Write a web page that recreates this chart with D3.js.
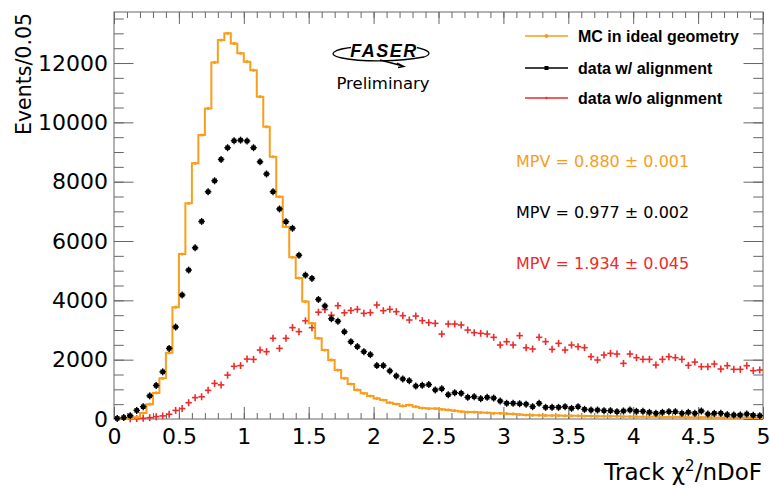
<!DOCTYPE html>
<html>
<head>
<meta charset="utf-8">
<script src="https://cdn.jsdelivr.net/npm/d3@7"></script>
<style>
  body { margin: 0; background: #fff; }
  svg { display: block; }
</style>
</head>
<body>
<svg id="chart"></svg>
<script>
// bin contents, 100 bins of width 0.05 from 0 to 5
const binWidth = 0.05;
const mcIdeal = [
  0, 0, 20, 60, 200, 500, 880, 1370, 2230, 3770,
  5560, 7270, 8620, 9570, 10470, 12020, 12775, 13000, 12660, 12330,
  12045, 11760, 10865, 9850, 8840, 7490, 6480, 5450, 4750, 3960,
  3225, 2720, 2325, 1990, 1650, 1370, 1180, 980, 865, 775,
  695, 640, 550, 505, 440, 470, 415, 370, 350, 350,
  325, 305, 280, 250, 235, 235, 215, 210, 190, 190,
  180, 170, 150, 135, 130, 128, 120, 118, 116, 110,
  108, 106, 100, 98, 96, 92, 90, 89, 85, 82,
  80, 79, 75, 72, 71, 68, 66, 65, 62, 60,
  59, 56, 54, 53, 51, 50, 48, 47, 45, 44
];
const dataAligned = [
  20, 50, 110, 290, 415, 780, 1130, 1590, 2380, 3100,
  4180, 5020, 5770, 6660, 7660, 8030, 8750, 9145, 9380, 9400,
  9370, 9145, 8670, 8260, 7660, 7080, 6650, 6430, 5520, 4850,
  4740, 4030, 3810, 3380, 3295, 2940, 2606, 2440, 2270, 2170,
  1800, 1800, 1620, 1450, 1350, 1290, 1110, 1135, 1160, 980,
  1020, 820, 885, 865, 730, 750, 685, 730, 705, 605,
  530, 530, 515, 500, 416, 528, 393, 393, 393, 416,
  360, 416, 326, 303, 303, 281, 281, 247, 270, 303,
  258, 258, 225, 191, 225, 247, 247, 191, 225, 191,
  270, 168, 191, 191, 146, 135, 135, 168, 123, 112
];
const dataNoAlign = [
  0, 0, 5, 15, 25, 45, 80, 105, 160, 290,
  350, 550, 720, 750, 965, 1200, 1150, 1480, 1775, 1800,
  2020, 2010, 2325, 2270, 2720, 2380, 2720, 3080, 2945, 3310,
  3080, 3600, 3690, 3500, 3820, 3580, 3660, 3697, 3562, 3584,
  3842, 3652, 3697, 3618, 3483, 3337, 3472, 3315, 3247, 3225,
  2865, 3202, 3202, 3168, 3000, 2910, 2888, 2865, 2753, 2494,
  2606, 2494, 2810, 2400, 2360, 2753, 2607, 2348, 2550, 2326,
  2494, 2438, 2405, 2101, 1989, 2157, 2213, 2191, 1876, 2191,
  2067, 2011, 2011, 1820, 2011, 2101, 2067, 2011, 1809, 1920,
  1764, 1764, 1854, 1685, 1797, 1674, 1674, 1797, 1629, 1652
];

const xTicks = [0, 0.5, 1, 1.5, 2, 2.5, 3, 3.5, 4, 4.5, 5];
const xTickLabels = ["0", "0.5", "1", "1.5", "2", "2.5", "3", "3.5", "4", "4.5", "5"];
const yTicks = [0, 2000, 4000, 6000, 8000, 10000, 12000];
const yTickLabels = ["0", "2000", "4000", "6000", "8000", "10000", "12000"];

const seriesNames = ["MC in ideal geometry", "data w/ alignment", "data w/o alignment"];
const mpvTexts = ["MPV = 0.880 \u00b1 0.001", "MPV = 0.977 \u00b1 0.002", "MPV = 1.934 \u00b1 0.045"];

const orange = "#f99d1c";
const red = "#ee2a2a";
const black = "#000";

const width = 770, height = 488;
const margin = {left: 114, right: 7, top: 12, bottom: 69};

const svg = d3.select("#chart").attr("width", width).attr("height", height);

const x = d3.scaleLinear().domain([0, 5]).range([margin.left, width - margin.right]);
const y = d3.scaleLinear().domain([0, 13720]).range([height - margin.bottom, margin.top]);

const plotW = width - margin.left - margin.right;
const plotH = height - margin.top - margin.bottom;
const xTickLen = 12, yTickLen = 19.5;

const minorX = d3.range(0, 51).map(d => d / 10);
const minorY = d3.range(0, 28).map(d => d * 500);

// frame
svg.append("rect")
  .attr("x", margin.left).attr("y", margin.top)
  .attr("width", plotW).attr("height", plotH)
  .attr("fill", "none").attr("stroke", "#666").attr("stroke-width", 1);

function styleAxis(g) {
  g.select(".domain").remove();
  g.selectAll("line").attr("stroke", "#666");
}

// ticks on all four sides
svg.append("g").attr("transform", `translate(0,${height - margin.bottom})`)
  .call(d3.axisBottom(x).tickValues(minorX).tickSize(-xTickLen / 2).tickFormat("")).call(styleAxis);
svg.append("g").attr("transform", `translate(0,${margin.top})`)
  .call(d3.axisTop(x).tickValues(minorX).tickSize(-xTickLen / 2).tickFormat("")).call(styleAxis);
svg.append("g").attr("transform", `translate(0,${margin.top})`)
  .call(d3.axisTop(x).tickValues(xTicks).tickSize(-xTickLen).tickFormat("")).call(styleAxis);
svg.append("g").attr("transform", `translate(${margin.left},0)`)
  .call(d3.axisLeft(y).tickValues(minorY).tickSize(-yTickLen / 2).tickFormat("")).call(styleAxis);
svg.append("g").attr("transform", `translate(${width - margin.right},0)`)
  .call(d3.axisRight(y).tickValues(minorY).tickSize(-yTickLen / 2).tickFormat("")).call(styleAxis);
svg.append("g").attr("transform", `translate(${width - margin.right},0)`)
  .call(d3.axisRight(y).tickValues(yTicks).tickSize(-yTickLen).tickFormat("")).call(styleAxis);

const xAxis = svg.append("g").attr("transform", `translate(0,${height - margin.bottom})`)
  .call(d3.axisBottom(x).tickValues(xTicks).tickSize(-xTickLen).tickPadding(9)
    .tickFormat((d, i) => xTickLabels[i]))
  .call(styleAxis);
const yAxis = svg.append("g").attr("transform", `translate(${margin.left},0)`)
  .call(d3.axisLeft(y).tickValues(yTicks).tickSize(-yTickLen).tickPadding(6)
    .tickFormat((d, i) => yTickLabels[i]))
  .call(styleAxis);
[xAxis, yAxis].forEach(g => g.selectAll("text")
  .attr("font-family", "DejaVu Sans").attr("font-size", 22).attr("fill", "#000"));

// axis titles
const xTitle = svg.append("text")
  .attr("x", width - 8).attr("y", 480)
  .attr("text-anchor", "end")
  .attr("font-family", "DejaVu Sans").attr("font-size", 23);
xTitle.append("tspan").text("Track \u03c7");
xTitle.append("tspan").attr("font-size", 15).attr("dy", -9).text("2");
xTitle.append("tspan").attr("dy", 9).text("/nDoF");

svg.append("text")
  .attr("transform", `translate(31,${margin.top + 1}) rotate(-90)`)
  .attr("text-anchor", "end")
  .attr("font-family", "DejaVu Sans").attr("font-size", 20.5)
  .text("Events/0.05");

// MC histogram as steps
const edges = d3.range(0, mcIdeal.length + 1).map(i => i * binWidth);
const stepData = edges.map((e, i) => [e, mcIdeal[Math.min(i, mcIdeal.length - 1)]]);
const step = d3.line().x(d => x(d[0])).y(d => y(d[1])).curve(d3.curveStepAfter);

const plot = svg.append("g");

// data w/o alignment, red crosses
const redG = plot.append("g").attr("stroke", red).attr("stroke-width", 1.6);
dataNoAlign.forEach((v, i) => {
  if (v <= 0) return;
  const cx = x((i + 0.5) * binWidth), cy = y(v);
  redG.append("line").attr("x1", x(i * binWidth)).attr("x2", x((i + 1) * binWidth))
    .attr("y1", cy).attr("y2", cy);
  redG.append("line").attr("x1", cx).attr("x2", cx).attr("y1", cy - 3.5).attr("y2", cy + 3.5);
});

plot.append("path")
  .attr("d", step(stepData))
  .attr("fill", "none").attr("stroke", orange).attr("stroke-width", 2);
plot.selectAll(".mc-dot").data(mcIdeal).enter().append("circle")
  .attr("class", "mc-dot")
  .attr("cx", (d, i) => x((i + 0.5) * binWidth))
  .attr("cy", d => y(d))
  .attr("r", 1.6).attr("fill", orange);

// data w/ alignment, black squares with bars
const blackG = plot.append("g").attr("stroke", black).attr("stroke-width", 1.4);
dataAligned.forEach((v, i) => {
  const cx = x((i + 0.5) * binWidth), cy = y(v);
  blackG.append("line").attr("x1", x(i * binWidth)).attr("x2", x((i + 1) * binWidth))
    .attr("y1", cy).attr("y2", cy);
  blackG.append("line").attr("x1", cx).attr("x2", cx).attr("y1", cy - 3.5).attr("y2", cy + 3.5);
  blackG.append("rect").attr("x", cx - 2.3).attr("y", cy - 2.3)
    .attr("width", 4.6).attr("height", 4.6).attr("fill", black).attr("stroke", "none");
});

// legend
const legendColors = [orange, black, red];
const legendY = [36, 68, 98];
const legend = svg.append("g");
seriesNames.forEach((name, i) => {
  const ly = legendY[i];
  legend.append("line").attr("x1", 525).attr("x2", 568).attr("y1", ly).attr("y2", ly)
    .attr("stroke", legendColors[i]).attr("stroke-width", 1.6);
  if (i === 0) legend.append("circle").attr("cx", 546.5).attr("cy", ly).attr("r", 2).attr("fill", orange);
  if (i === 1) legend.append("rect").attr("x", 544.5).attr("y", ly - 2).attr("width", 4).attr("height", 4).attr("fill", black);
  if (i === 2) legend.append("circle").attr("cx", 546.5).attr("cy", ly).attr("r", 1.2).attr("fill", red);
  legend.append("text").attr("x", 578).attr("y", ly + 5.5)
    .attr("font-family", "Liberation Sans").attr("font-weight", "bold").attr("font-size", 16)
    .text(name);
});

// MPV values
const mpvY = [166.5, 217.5, 268.5];
mpvTexts.forEach((t, i) => {
  svg.append("text").attr("x", 516).attr("y", mpvY[i])
    .attr("font-family", "DejaVu Sans").attr("font-size", 16)
    .attr("fill", legendColors[i]).text(t);
});

// FASER logo
const logo = svg.append("g");
logo.append("path")
  .attr("d", "M356,47 C332,49 326,55 342,58 C362,62 398,62 424,57 C433,54 430,50 414,47")
  .attr("fill", "none").attr("stroke", "#000").attr("stroke-width", 1.3);
logo.append("path")
  .attr("d", "M380,60 L403,66 M397,63 L404,66.5 L398,67.5")
  .attr("fill", "none").attr("stroke", "#000").attr("stroke-width", 1.3);
logo.append("rect").attr("x", 351).attr("y", 42).attr("width", 66).attr("height", 15).attr("fill", "#fff");
logo.append("text").attr("x", 384).attr("y", 56.5).attr("text-anchor", "middle")
  .attr("font-family", "Liberation Sans").attr("font-weight", "bold").attr("font-style", "italic")
  .attr("font-size", 18).attr("letter-spacing", 1.5).text("FASER");
logo.append("text").attr("x", 383).attr("y", 89).attr("text-anchor", "middle")
  .attr("font-family", "DejaVu Sans").attr("font-size", 16.5).text("Preliminary");
</script>
</body>
</html>
